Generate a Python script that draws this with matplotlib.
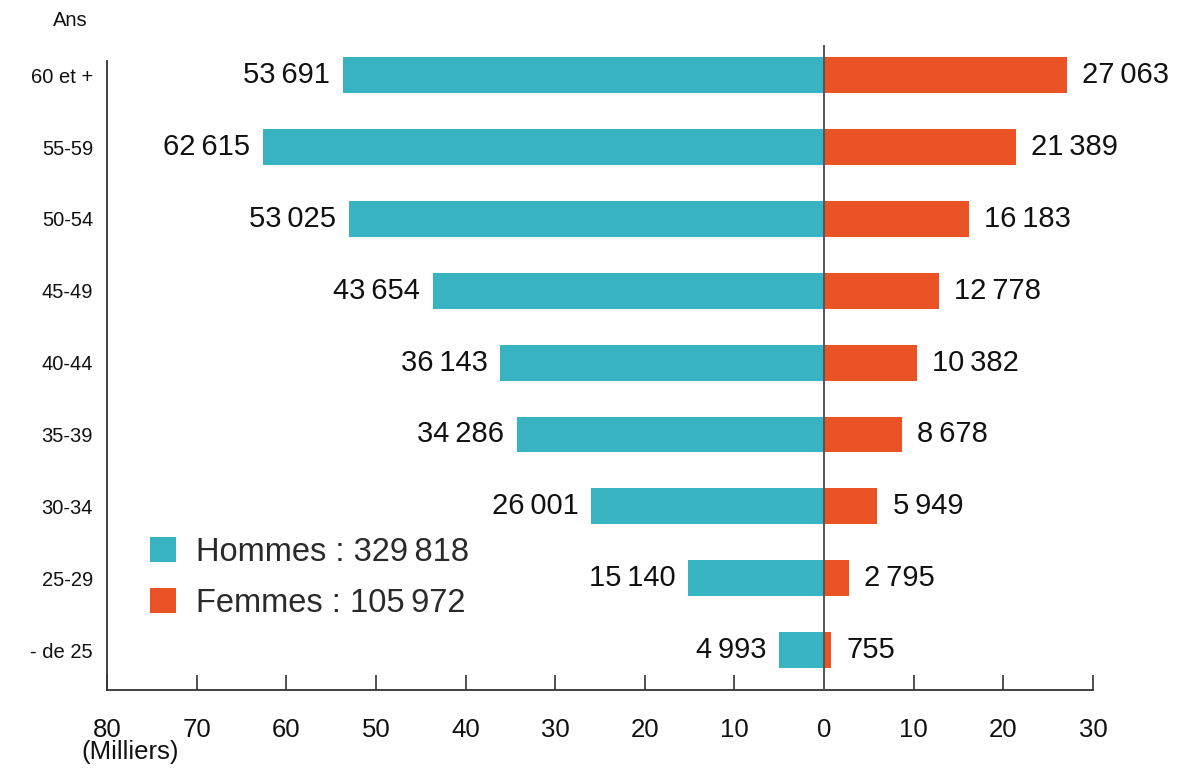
import matplotlib
matplotlib.use("Agg")
import matplotlib.pyplot as plt
from matplotlib.patches import Patch

categories = ["60 et +", "55-59", "50-54", "45-49", "40-44", "35-39", "30-34", "25-29", "- de 25"]
hommes = [53691, 62615, 53025, 43654, 36143, 34286, 26001, 15140, 4993]
femmes = [27063, 21389, 16183, 12778, 10382, 8678, 5949, 2795, 755]
total_hommes = 329818
total_femmes = 105972
xticks = [-80, -70, -60, -50, -40, -30, -20, -10, 0, 10, 20, 30]

TEAL = "#38B3C2"
ORANGE = "#EA5325"
FONT = "Liberation Sans"

def fmt(v):
    return f"{v:,}".replace(",", "\u2009")

plt.rcParams["font.family"] = [FONT, "DejaVu Sans"]

fig = plt.figure(figsize=(12.02, 7.72), dpi=100)
ax = fig.add_axes([107/1202, 1 - 690/772, (1093-107)/1202, (690-45)/772])

n = len(categories)
ypos = [n - 1 - i for i in range(n)]
h_k = [v / 1000 for v in hommes]
f_k = [v / 1000 for v in femmes]

ax.barh(ypos, [-v for v in h_k], height=0.5, color=TEAL)
ax.barh(ypos, f_k, height=0.5, color=ORANGE)

for y, hv, fv, hr, fr in zip(ypos, h_k, f_k, hommes, femmes):
    ax.annotate(fmt(hr), (-hv, y), xytext=(-9, 0), textcoords="offset points",
                ha="right", va="center", fontsize=21, color="#111111")
    ax.annotate(fmt(fr), (fv, y), xytext=(11, 0), textcoords="offset points",
                ha="left", va="center", fontsize=21, color="#111111")

ax.set_xlim(-80, 30)
ax.set_ylim(-0.556, 8.42)
ax.axvline(0, color="#555555", lw=1.4, zorder=3)

for s in ["top", "right"]:
    ax.spines[s].set_visible(False)
ax.spines["left"].set_bounds(-0.556, 8.2)
ax.spines["left"].set_color("#333333")
ax.spines["bottom"].set_color("#333333")
ax.spines["left"].set_linewidth(1.3)
ax.spines["bottom"].set_linewidth(1.3)

ax.set_xticks(xticks)
ax.set_xticklabels([str(abs(t)) for t in xticks])
ax.tick_params(axis="x", direction="in", length=11, width=1.2, color="#333333",
               pad=20, labelsize=18.5, labelcolor="#111111")
ax.set_yticks(ypos)
ax.set_yticklabels(categories)
ax.tick_params(axis="y", length=0, pad=10, labelsize=14.5, labelcolor="#111111")

fig.text(70/1202, 1 - 20/772, "Ans", ha="center", va="center", fontsize=14.5, color="#111111")
fig.text(130/1202, 1 - 752/772, "(Milliers)", ha="center", va="center", fontsize=18.5, color="#111111")

handles = [Patch(facecolor=TEAL), Patch(facecolor=ORANGE)]
labels = [f"Hommes : {fmt(total_hommes)}", f"Femmes : {fmt(total_femmes)}"]
leg = ax.legend(handles, labels, loc="upper left", bbox_to_anchor=(150/1202, 1 - 537/772),
                bbox_transform=fig.transFigure, frameon=False, fontsize=23.5,
                handlelength=0.8, handleheight=0.8, handletextpad=0.6, labelspacing=0.6,
                borderpad=0, borderaxespad=0)
for t in leg.get_texts():
    t.set_color("#2a2a2a")

fig.savefig("out.png", dpi=100)
